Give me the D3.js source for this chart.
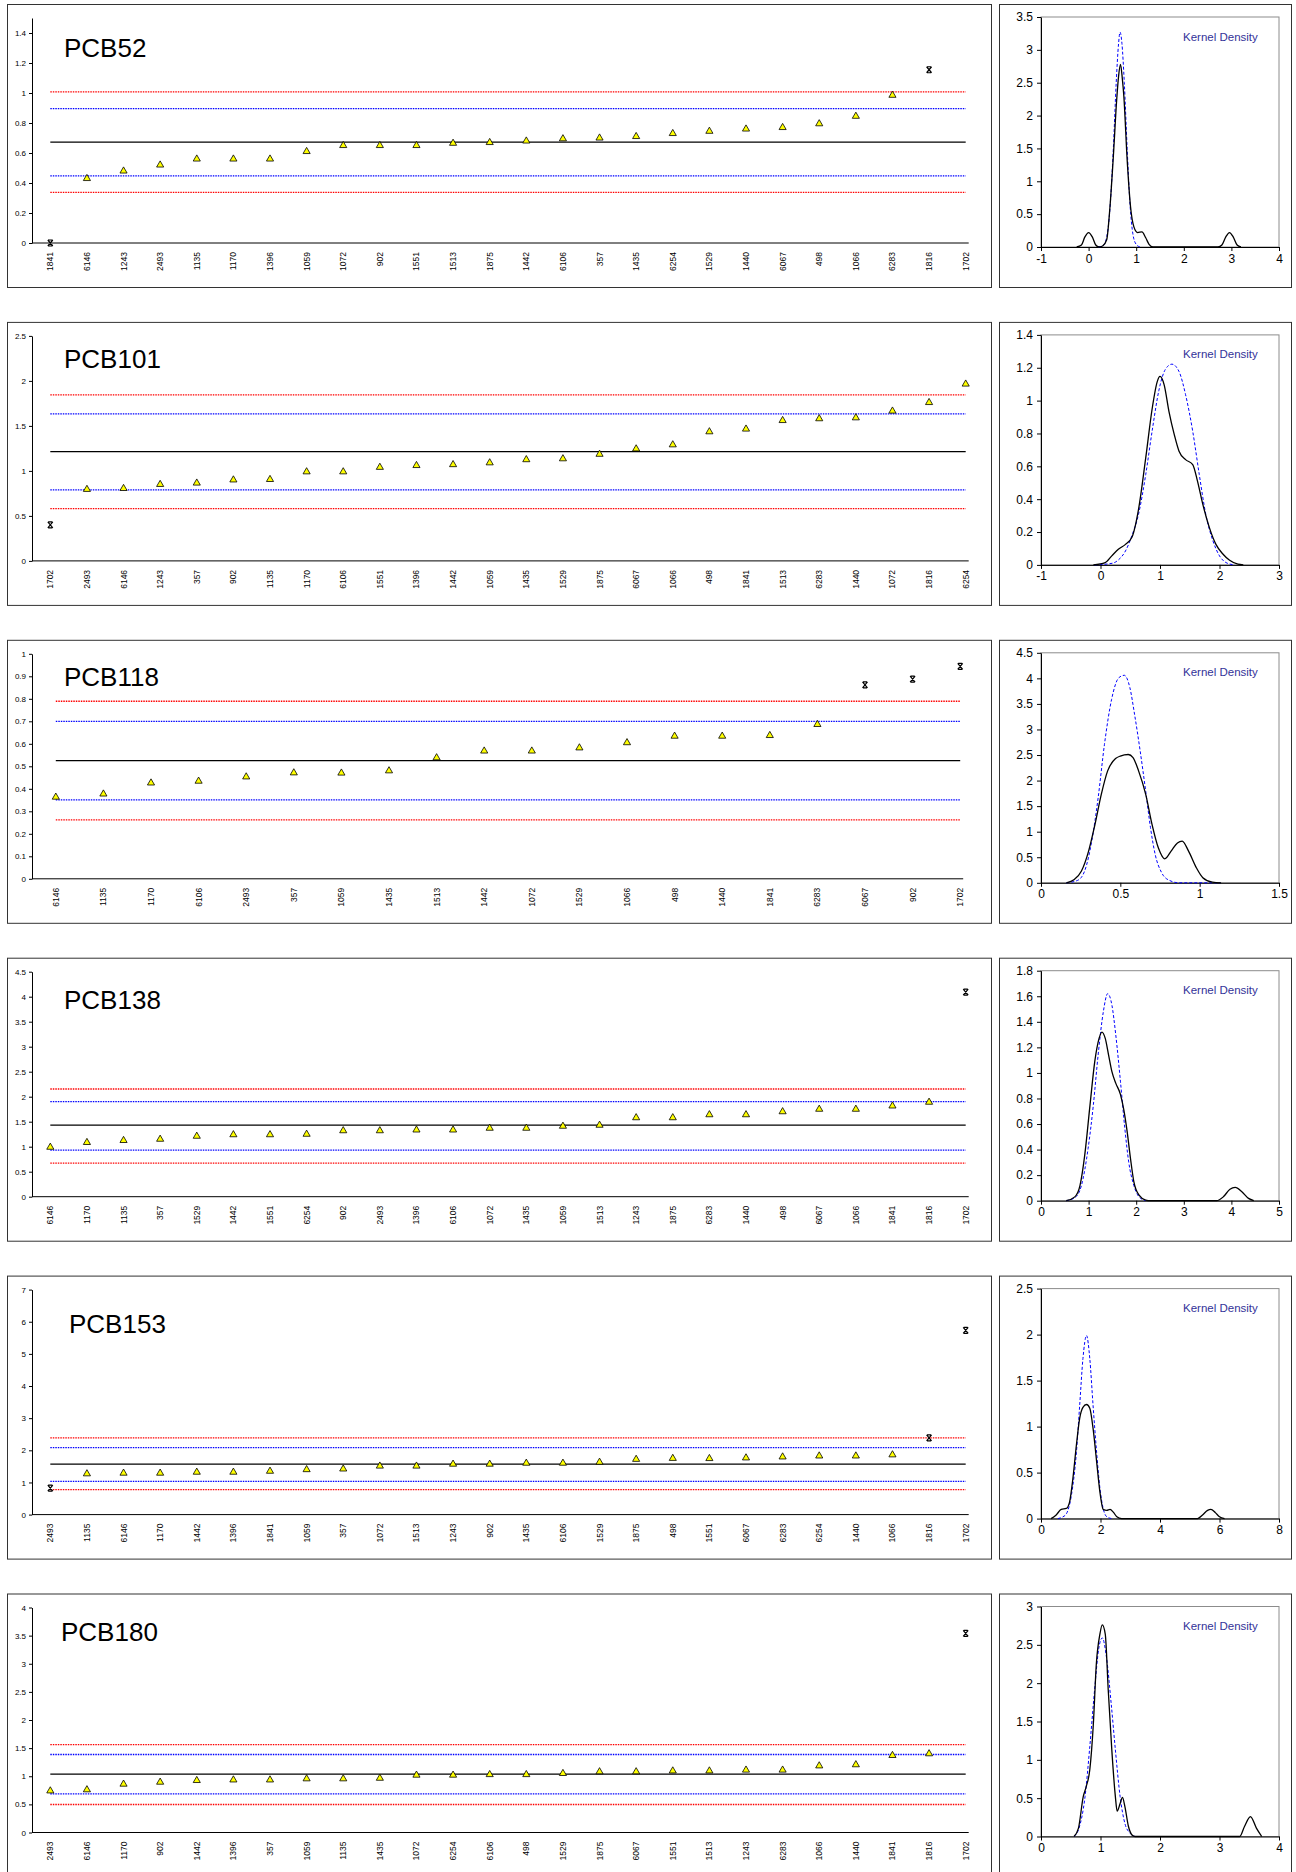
<!DOCTYPE html>
<html>
<head>
<meta charset="utf-8">
<script src="https://cdn.jsdelivr.net/npm/d3@7"></script>
<style>
body{margin:0;background:#fff}
svg{display:block;font-family:Arial,"Liberation Sans",sans-serif}
</style>
</head>
<body>
<div id="chart"></div>
<script>
// sample order + values per congener (x = outlier)
const cats52 = ["1841","6146","1243","2493","1135","1170","1396","1059","1072","902","1551","1513","1875","1442","6106","357","1435","6254","1529","1440","6067","498","1066","6283","1816","1702"];
const vals52 = [0.0,0.43,0.48,0.52,0.56,0.56,0.56,0.61,0.65,0.65,0.65,0.665,0.67,0.68,0.695,0.70,0.71,0.73,0.745,0.76,0.77,0.795,0.845,0.985,1.155,null];
const out52 = ["1841","1816"];
const ref52 = [0.338,0.447,0.673,0.896,1.007];

const cats101 = ["1702","2493","6146","1243","357","902","1135","1170","6106","1551","1396","1442","1059","1435","1529","1875","6067","1066","498","1841","1513","6283","1440","1072","1816","6254"];
const vals101 = [0.40,0.795,0.805,0.85,0.865,0.90,0.905,0.99,0.99,1.04,1.06,1.07,1.09,1.125,1.135,1.185,1.245,1.29,1.435,1.465,1.56,1.58,1.59,1.665,1.76,1.965];
const out101 = ["1702"];
const ref101 = [0.58,0.79,1.215,1.633,1.844];

const cats118 = ["6146","1135","1170","6106","2493","357","1059","1435","1513","1442","1072","1529","1066","498","1440","1841","6283","6067","902","1702"];
const vals118 = [0.363,0.377,0.426,0.434,0.453,0.471,0.470,0.480,0.538,0.568,0.568,0.582,0.605,0.634,0.634,0.637,0.686,0.862,0.887,0.944];
const out118 = ["6067","902","1702"];
const ref118 = [0.262,0.351,0.525,0.700,0.789];

const cats138 = ["6146","1170","1135","357","1529","1442","1551","6254","902","2493","1396","6106","1072","1435","1059","1513","1243","1875","6283","1440","498","6067","1066","1841","1816","1702"];
const vals138 = [0.99,1.085,1.125,1.15,1.21,1.24,1.24,1.25,1.32,1.32,1.335,1.335,1.37,1.37,1.41,1.43,1.58,1.58,1.64,1.64,1.70,1.75,1.75,1.815,1.89,4.09];
const out138 = ["1702"];
const ref138 = [0.672,0.931,1.43,1.902,2.154];

const cats153 = ["2493","1135","6146","1170","1442","1396","1841","1059","357","1072","1513","1243","902","1435","6106","1529","1875","498","1551","6067","6283","6254","1440","1066","1816","1702"];
const vals153 = [0.826,1.27,1.29,1.29,1.32,1.32,1.35,1.40,1.42,1.51,1.51,1.57,1.57,1.60,1.60,1.63,1.72,1.75,1.745,1.765,1.795,1.825,1.825,1.86,2.39,5.73];
const out153 = ["2493","1816","1702"];
const ref153 = [0.774,1.032,1.569,2.085,2.384];

const cats180 = ["2493","6146","1170","902","1442","1396","357","1059","1135","1435","1072","6254","6106","498","1529","1875","6067","1551","1513","1243","6283","1066","1440","1841","1816","1702"];
const vals180 = [0.74,0.76,0.86,0.895,0.925,0.935,0.935,0.955,0.955,0.965,1.02,1.02,1.03,1.03,1.05,1.08,1.08,1.095,1.095,1.11,1.11,1.185,1.205,1.37,1.40,3.54];
const out180 = ["1702"];
const ref180 = [0.498,0.687,1.037,1.387,1.564];

// kernel density (black) and normal (blue dashed)
const kde52X = [-0.25,-0.15,-0.08,0,0.08,0.15,0.22,0.3,0.38,0.45,0.52,0.59,0.63,0.67,0.71,0.74,0.81,0.88,0.95,1.03,1.12,1.2,1.27,1.35,2.72,2.8,2.88,2.96,3.04,3.12,3.2];
const kde52Y = [0,0.03,0.15,0.22,0.15,0.03,0,0.02,0.11,0.62,1.38,2.24,2.6,2.78,2.55,2.3,1.33,0.62,0.31,0.22,0.23,0.14,0.04,0,0,0.03,0.15,0.22,0.15,0.03,0];
const nrm52X = [0.2,0.3,0.38,0.45,0.52,0.58,0.63,0.66,0.7,0.75,0.81,0.87,0.93,1.0,1.08];
const nrm52Y = [0,0.02,0.15,0.6,1.5,2.5,3.1,3.27,3.1,2.5,1.5,0.65,0.2,0.04,0];

const kde101X = [-0.12,0.08,0.19,0.3,0.42,0.53,0.64,0.76,0.87,0.955,1.0,1.07,1.15,1.24,1.32,1.43,1.55,1.63,1.72,1.83,1.94,2.06,2.17,2.31,2.4];
const kde101Y = [0,0.014,0.055,0.095,0.125,0.17,0.34,0.651,0.955,1.117,1.147,1.096,0.935,0.793,0.692,0.641,0.611,0.51,0.368,0.227,0.125,0.065,0.028,0.004,0];
const nrm101X = [-0.1,0.2,0.3,0.42,0.53,0.64,0.76,0.87,0.98,1.09,1.2,1.32,1.43,1.55,1.66,1.77,1.89,2.0,2.11,2.25];
const nrm101Y = [0,0.01,0.03,0.085,0.18,0.31,0.55,0.82,1.06,1.19,1.222,1.177,1.036,0.813,0.55,0.307,0.146,0.055,0.014,0];

const kde118X = [0.16,0.21,0.255,0.30,0.34,0.38,0.42,0.47,0.5,0.55,0.58,0.615,0.66,0.70,0.74,0.78,0.82,0.86,0.89,0.93,0.98,1.02,1.08,1.135];
const kde118Y = [0,0.065,0.23,0.62,1.14,1.73,2.19,2.43,2.48,2.51,2.45,2.19,1.73,1.14,0.68,0.47,0.62,0.78,0.815,0.62,0.29,0.1,0.013,0];
const nrm118X = [0.16,0.23,0.275,0.32,0.36,0.40,0.445,0.49,0.525,0.56,0.59,0.625,0.66,0.69,0.72,0.76,0.81,0.87,1.13];
const nrm118Y = [0,0.046,0.23,0.82,1.66,2.71,3.59,4.01,4.06,3.82,3.29,2.58,1.79,1.08,0.55,0.2,0.046,0,0];

const kde138X = [0.53,0.71,0.82,0.92,1.03,1.13,1.22,1.28,1.35,1.42,1.49,1.57,1.67,1.74,1.81,1.88,1.95,2.06,2.2,2.3,3.69,3.83,3.97,4.08,4.22,4.36,4.47];
const kde138Y = [0,0.03,0.12,0.36,0.75,1.09,1.27,1.32,1.27,1.14,1.01,0.92,0.83,0.71,0.54,0.33,0.15,0.044,0.005,0,0,0.03,0.09,0.104,0.07,0.018,0];
const nrm138X = [0.53,0.71,0.85,0.99,1.1,1.2,1.31,1.40,1.49,1.57,1.67,1.76,1.84,1.95,2.06,2.2];
const nrm138Y = [0,0.023,0.12,0.41,0.75,1.14,1.48,1.62,1.53,1.30,0.93,0.57,0.31,0.12,0.03,0];

const kde153X = [0.34,0.51,0.68,0.85,0.96,1.07,1.19,1.30,1.41,1.53,1.64,1.75,1.87,1.98,2.09,2.21,2.32,2.43,2.55,2.71,5.26,5.43,5.6,5.71,5.86,6.0,6.17];
const kde153Y = [0,0.04,0.10,0.11,0.18,0.43,0.80,1.09,1.21,1.24,1.20,0.98,0.62,0.29,0.10,0.09,0.10,0.07,0.02,0,0,0.04,0.09,0.10,0.065,0.02,0];
const nrm153X = [0.57,0.74,0.85,1.02,1.19,1.30,1.41,1.53,1.64,1.75,1.87,1.98,2.09,2.21,2.38];
const nrm153Y = [0,0.02,0.05,0.25,0.72,1.23,1.74,1.99,1.74,1.23,0.72,0.33,0.11,0.02,0];

const kde180X = [0.555,0.63,0.71,0.76,0.82,0.88,0.93,0.99,1.03,1.08,1.13,1.19,1.25,1.28,1.33,1.37,1.41,1.47,1.53,1.58,3.34,3.42,3.52,3.62,3.71];
const kde180Y = [0,0.11,0.52,0.65,0.87,1.47,2.25,2.64,2.76,2.64,1.91,1.13,0.52,0.33,0.43,0.51,0.39,0.13,0.02,0,0,0.13,0.26,0.11,0];
const nrm180X = [0.555,0.63,0.74,0.82,0.905,0.97,1.03,1.10,1.18,1.25,1.33,1.41,1.5,1.58];
const nrm180Y = [0,0.09,0.52,1.17,1.95,2.45,2.59,2.34,1.73,1.13,0.52,0.17,0.04,0];

// tick labels
const yTicks52 = [0,0.2,0.4,0.6,0.8,1,1.2,1.4];
const yTicks101 = [0,0.5,1,1.5,2,2.5];
const yTicks118 = [0,0.1,0.2,0.3,0.4,0.5,0.6,0.7,0.8,0.9,1];
const yTicks138 = [0,0.5,1,1.5,2,2.5,3,3.5,4,4.5];
const yTicks153 = [0,1,2,3,4,5,6,7];
const yTicks180 = [0,0.5,1,1.5,2,2.5,3,3.5,4];
const dxTicks52 = [-1,0,1,2,3,4],   dyTicks52 = [0,0.5,1,1.5,2,2.5,3,3.5];
const dxTicks101 = [-1,0,1,2,3],    dyTicks101 = [0,0.2,0.4,0.6,0.8,1,1.2,1.4];
const dxTicks118 = [0,0.5,1,1.5],   dyTicks118 = [0,0.5,1,1.5,2,2.5,3,3.5,4,4.5];
const dxTicks138 = [0,1,2,3,4,5],   dyTicks138 = [0,0.2,0.4,0.6,0.8,1,1.2,1.4,1.6,1.8];
const dxTicks153 = [0,2,4,6,8],     dyTicks153 = [0,0.5,1,1.5,2,2.5];
const dxTicks180 = [0,1,2,3,4],     dyTicks180 = [0,0.5,1,1.5,2,2.5,3];

let panels = [
  {name:"PCB52",  cats:cats52,  vals:vals52,  out:out52,  ref:ref52,  yMax:1.5, yt:yTicks52,  kx:kde52X,  ky:kde52Y,  nx:nrm52X,  ny:nrm52Y,  dxt:dxTicks52,  dyt:dyTicks52},
  {name:"PCB101", cats:cats101, vals:vals101, out:out101, ref:ref101, yMax:2.5, yt:yTicks101, kx:kde101X, ky:kde101Y, nx:nrm101X, ny:nrm101Y, dxt:dxTicks101, dyt:dyTicks101},
  {name:"PCB118", cats:cats118, vals:vals118, out:out118, ref:ref118, yMax:1,   yt:yTicks118, kx:kde118X, ky:kde118Y, nx:nrm118X, ny:nrm118Y, dxt:dxTicks118, dyt:dyTicks118},
  {name:"PCB138", cats:cats138, vals:vals138, out:out138, ref:ref138, yMax:4.5, yt:yTicks138, kx:kde138X, ky:kde138Y, nx:nrm138X, ny:nrm138Y, dxt:dxTicks138, dyt:dyTicks138},
  {name:"PCB153", cats:cats153, vals:vals153, out:out153, ref:ref153, yMax:7,   yt:yTicks153, kx:kde153X, ky:kde153Y, nx:nrm153X, ny:nrm153Y, dxt:dxTicks153, dyt:dyTicks153},
  {name:"PCB180", cats:cats180, vals:vals180, out:out180, ref:ref180, yMax:4,   yt:yTicks180, kx:kde180X, ky:kde180Y, nx:nrm180X, ny:nrm180Y, dxt:dxTicks180, dyt:dyTicks180}
];

// layout
const titlePos = [[64,53],[64,46],[64,46],[64,51],[69,57],[61,47]];
const refColors = ["#ff0000","#0000ff","#000000","#0000ff","#ff0000"];
const L = {x0:7, x1:991, plotL:32, plotR:984, top:14, bot:239};
const R = {x0:999, x1:1291, plotL:1041, plotR:1279, top:13, bot:243};
const boxH = 283;
const rowTop = i => 4 + i*317.9;
const fmt = d => d3.format("~g")(d).replace("\u2212","-");

const svg = d3.select("#chart").append("svg").attr("width",1296).attr("height",1872);
svg.append("rect").attr("width",1296).attr("height",1872).attr("fill","#fff");

let styleAxis = (g, size) => {
  g.attr("font-family",null).attr("font-size",size);
  g.selectAll("text").attr("fill","#000");
  g.selectAll("line,path").attr("stroke","#000");
};

// x marker like the spreadsheet one: a cross with short caps
let xMark = "M-2.5,-3L2.5,3M2.5,-3L-2.5,3M-2,-3H2M-2,3H2";

panels.forEach((p,i) => {
  const g = svg.append("g").attr("transform",`translate(0,${rowTop(i)})`);

  // ---- left: sorted results ----
  g.append("rect").attr("x",L.x0+0.5).attr("y",0.5).attr("width",L.x1-L.x0).attr("height",boxH)
    .attr("fill","none").attr("stroke","#333");

  let x = d3.scaleBand().domain(p.cats).range([L.plotL,L.plotR]);
  let cx = c => x(c) + x.bandwidth()/2;
  let y = d3.scaleLinear().domain([0,p.yMax]).range([L.bot,L.top]);

  g.append("g").attr("transform",`translate(${L.plotL},0)`)
    .call(d3.axisLeft(y).tickValues(p.yt).tickFormat(fmt).tickSize(3).tickSizeOuter(0).tickPadding(3))
    .call(a => styleAxis(a,"8px"));

  g.append("line").attr("x1",L.plotL).attr("x2",cx(p.cats[p.cats.length-1])+3)
    .attr("y1",y(0)).attr("y2",y(0)).attr("stroke","#000");

  g.append("g").selectAll("text").data(p.cats).join("text")
    .attr("transform",d => `translate(${cx(d)},${L.bot+9}) rotate(-90)`)
    .attr("text-anchor","end").attr("dy","0.35em")
    .attr("font-size","8.5px").attr("fill","#000").text(d => d);

  g.append("g").selectAll("line").data(p.ref).join("line")
    .attr("x1",cx(p.cats[0])).attr("x2",cx(p.cats[p.cats.length-1]))
    .attr("y1",d => y(d)).attr("y2",d => y(d))
    .attr("stroke",(d,j) => refColors[j])
    .attr("stroke-width",(d,j) => j==2 ? 1.2 : 1.3)
    .attr("stroke-dasharray",(d,j) => j==2 ? null : "1.5,1");

  let pts = p.cats.map((c,j) => ({c, v:p.vals[j], out:p.out.includes(c)})).filter(d => d.v != null);
  g.append("g").selectAll("path").data(pts).join("path")
    .attr("transform",d => `translate(${cx(d.c)},${y(d.v)})`)
    .attr("d",d => d.out ? xMark : d3.symbol(d3.symbolTriangle,22)())
    .attr("fill",d => d.out ? "none" : "#ffff00")
    .attr("stroke","#000").attr("stroke-width",d => d.out ? 1.2 : 0.8);

  g.append("text").attr("x",titlePos[i][0]).attr("y",titlePos[i][1])
    .attr("font-size","26px").attr("fill","#000").text(p.name);

  // ---- right: kernel density ----
  g.append("rect").attr("x",R.x0+0.5).attr("y",0.5).attr("width",R.x1-R.x0).attr("height",boxH)
    .attr("fill","none").attr("stroke","#333");

  let dx = d3.scaleLinear().domain(d3.extent(p.dxt)).range([R.plotL,R.plotR]);
  let dy = d3.scaleLinear().domain(d3.extent(p.dyt)).range([R.bot,R.top]);

  g.append("rect").attr("x",R.plotL).attr("y",R.top).attr("width",R.plotR-R.plotL).attr("height",R.bot-R.top)
    .attr("fill","none").attr("stroke","#8c8c8c");

  g.append("g").attr("transform",`translate(${R.plotL},0)`)
    .call(d3.axisLeft(dy).tickValues(p.dyt).tickFormat(fmt).tickSize(4).tickSizeOuter(0).tickPadding(4))
    .call(a => styleAxis(a,"12px"));
  g.append("g").attr("transform",`translate(0,${R.bot})`)
    .call(d3.axisBottom(dx).tickValues(p.dxt).tickFormat(fmt).tickSize(4).tickSizeOuter(0).tickPadding(3))
    .call(a => styleAxis(a,"12px"));

  let line = d3.line().x(d => dx(d[0])).y(d => dy(d[1])).curve(d3.curveMonotoneX);
  g.append("path").attr("d",line(d3.zip(p.nx,p.ny)))
    .attr("fill","none").attr("stroke","#0000ff").attr("stroke-width",1).attr("stroke-dasharray","3,2");
  g.append("path").attr("d",line(d3.zip(p.kx,p.ky)))
    .attr("fill","none").attr("stroke","#000").attr("stroke-width",1.3);

  g.append("text").attr("x",1183).attr("y",36.5)
    .attr("font-size","11.5px").attr("fill","#333399").text("Kernel Density");
});
</script>
</body>
</html>
